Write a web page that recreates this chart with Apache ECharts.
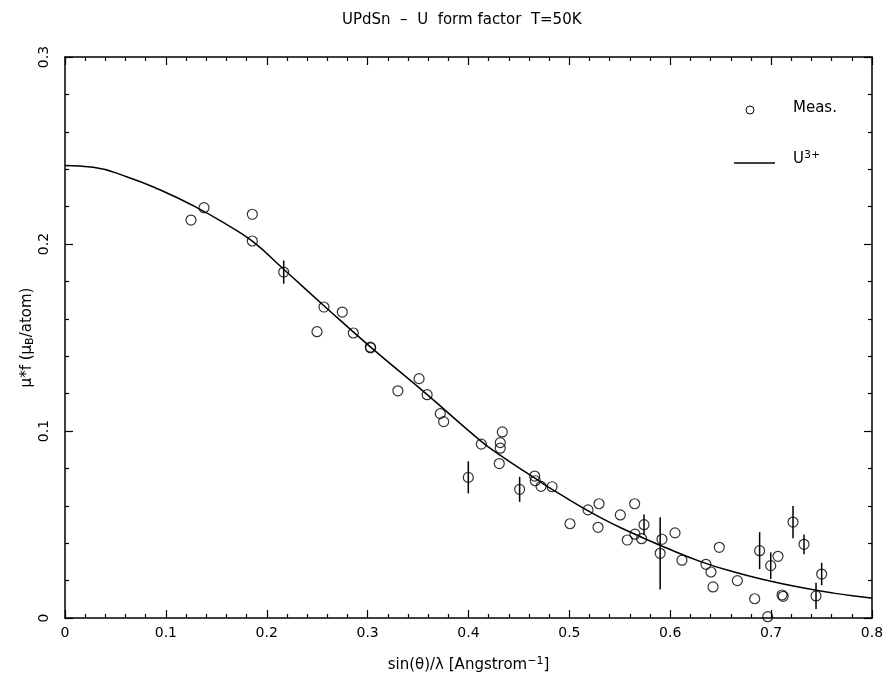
<!DOCTYPE html>
<html>
<head>
<meta charset="utf-8">
<title>UPdSn form factor</title>
<style>
  html, body { margin: 0; padding: 0; background: #fff; }
  #chart { width: 887px; height: 686px; }
</style>
</head>
<body>
<div id="chart"></div>
<script src="https://cdn.jsdelivr.net/npm/echarts@6/dist/echarts.min.js"></script>
<script>
// measured points (sin(theta)/lambda, mu*f, error; 0 = no bar drawn)
var measX = [0.1249, 0.1378, 0.1857, 0.1857, 0.2168, 0.2498, 0.2567, 0.2749, 0.2858, 0.3027,
             0.3030, 0.3300, 0.3510, 0.3590, 0.3720, 0.3754, 0.3998, 0.4127, 0.4305, 0.4315,
             0.4315, 0.4335, 0.4507, 0.4656, 0.4662, 0.4719, 0.4828, 0.5006, 0.5185, 0.5284,
             0.5294, 0.5505, 0.5574, 0.5647, 0.5650, 0.5716, 0.5740, 0.5900, 0.5918, 0.6047,
             0.6116, 0.6354, 0.6404, 0.6424, 0.6486, 0.6665, 0.6837, 0.6886, 0.6966, 0.6996,
             0.7068, 0.7108, 0.7120, 0.7217, 0.7326, 0.7445, 0.7501];
var measY = [0.2128, 0.2194, 0.2159, 0.2016, 0.1850, 0.1531, 0.1663, 0.1636, 0.1524, 0.1448,
             0.1445, 0.1215, 0.1280, 0.1194, 0.1093, 0.1050, 0.0752, 0.0930, 0.0826, 0.0938,
             0.0908, 0.0995, 0.0688, 0.0759, 0.0734, 0.0704, 0.0702, 0.0504, 0.0578, 0.0485,
             0.0611, 0.0551, 0.0417, 0.0611, 0.0448, 0.0424, 0.0499, 0.0346, 0.0421, 0.0455,
             0.0309, 0.0287, 0.0246, 0.0166, 0.0378, 0.0200, 0.0103, 0.0360, 0.0007, 0.0280,
             0.0330, 0.0123, 0.0116, 0.0513, 0.0394, 0.0118, 0.0235];
var measErr = [0, 0, 0, 0, 0.0062, 0, 0, 0, 0, 0,
               0, 0, 0, 0, 0, 0, 0.0086, 0, 0, 0,
               0, 0, 0.0067, 0, 0, 0, 0, 0, 0, 0,
               0, 0, 0, 0, 0, 0, 0.0055, 0.0193, 0, 0,
               0, 0, 0, 0, 0, 0, 0, 0.0099, 0, 0.0071,
               0, 0, 0, 0.0086, 0.0053, 0.0070, 0.0060];

// U3+ form factor curve
var curveX = [0, 0.028, 0.061, 0.094, 0.127, 0.160, 0.1857, 0.2168, 0.2567, 0.3027, 0.3585, 0.4114,
              0.4312, 0.4643, 0.4907, 0.5304, 0.5634, 0.5965, 0.6295, 0.6625, 0.6956, 0.7286, 0.7617,
              0.7947, 0.80];
var curveY = [0.242, 0.241, 0.236, 0.229, 0.2205, 0.2105, 0.2015, 0.1865, 0.167, 0.145, 0.1197, 0.095,
              0.0871, 0.0753, 0.0662, 0.0538, 0.0452, 0.0374, 0.0303, 0.0247, 0.0202, 0.0164, 0.0133,
              0.0109, 0.0106];

var xTicks = { min: 0, max: 0.8, interval: 0.1 };
var yTicks = { min: 0, max: 0.3, interval: 0.1 };

var FONT = 'DejaVu Sans';

var measData = [], errData = [], curveData = [];
for (var i = 0; i < measX.length; i++) {
  measData.push([measX[i], measY[i]]);
  if (measErr[i] > 0) errData.push([measX[i], measY[i], measErr[i]]);
}
for (var j = 0; j < curveX.length; j++) curveData.push([curveX[j], curveY[j]]);

function makeAxis(t, pos, showLabel, extra) {
  var ax = {
    type: 'value', position: pos, min: t.min, max: t.max, interval: t.interval,
    axisLine: { show: true, onZero: false, lineStyle: { color: '#000', width: 1.5 } },
    axisTick: { show: true, inside: true, length: 8, lineStyle: { color: '#000', width: 1.2 } },
    minorTick: { show: true, splitNumber: 5, length: 4, lineStyle: { color: '#000', width: 1.2 } },
    splitLine: { show: false },
    axisLabel: { show: showLabel, color: '#000', fontFamily: FONT, fontSize: 14 }
  };
  for (var k in extra) ax[k] = extra[k];
  return ax;
}

var chart = echarts.init(document.getElementById('chart'));
chart.setOption({
  backgroundColor: '#fff',
  animation: false,
  title: {
    text: 'UPdSn  \u2013  U  form factor  T=50K',
    left: 337, top: 8,
    textStyle: { color: '#000', fontFamily: FONT, fontSize: 15, fontWeight: 'normal' }
  },
  grid: { left: 65, right: 15, top: 57, bottom: 68 },
  xAxis: [
    makeAxis(xTicks, 'bottom', true, {
      name: 'sin(\u03b8)/\u03bb [Angstrom{sup|\u22121}]',
      nameLocation: 'middle', nameGap: 38,
      nameTextStyle: {
        color: '#000', fontFamily: FONT, fontSize: 15,
        rich: { sup: { fontFamily: FONT, fontSize: 11, verticalAlign: 'top', padding: [0, 0, 8, 0], color: '#000' } }
      }
    }),
    makeAxis(xTicks, 'top', false, {})
  ],
  yAxis: [
    makeAxis(yTicks, 'left', true, {
      axisLabel: { show: true, color: '#000', fontFamily: FONT, fontSize: 14, rotate: 90, margin: 14 },
      name: '\u03bc*f (\u03bc{sub|B}/atom)',
      nameLocation: 'middle', nameGap: 29, nameRotate: 90, nameMoveOverlap: false,
      nameTextStyle: {
        color: '#000', fontFamily: FONT, fontSize: 15,
        rich: { sub: { fontFamily: FONT, fontSize: 11, verticalAlign: 'bottom', padding: [6, 0, 0, 0], color: '#000' } }
      }
    }),
    makeAxis(yTicks, 'right', false, {})
  ],
  series: [
    {
      name: 'U3+', type: 'line', data: curveData, smooth: 0.5,
      showSymbol: false, symbol: 'none',
      lineStyle: { color: '#000', width: 1.5 }
    },
    {
      name: 'err', type: 'custom', data: errData,
      renderItem: function (params, api) {
        var x = api.value(0), y = api.value(1), e = api.value(2);
        var p1 = api.coord([x, y + e]), p2 = api.coord([x, y - e]);
        return {
          type: 'line',
          shape: { x1: p1[0], y1: p1[1], x2: p2[0], y2: p2[1] },
          style: { stroke: '#000', lineWidth: 1.5 }
        };
      }
    },
    {
      name: 'Meas.', type: 'scatter', data: measData,
      symbol: 'circle', symbolSize: 10,
      itemStyle: { color: 'rgba(0,0,0,0)', borderColor: '#000', borderWidth: 1.2 }
    }
  ],
  graphic: [
    { type: 'circle', shape: { cx: 750, cy: 110, r: 4 }, style: { fill: 'none', stroke: '#000', lineWidth: 1 } },
    { type: 'text', left: 793, top: 101, style: { text: 'Meas.', fill: '#000', font: '15px "DejaVu Sans"' } },
    { type: 'line', shape: { x1: 734, y1: 163, x2: 775, y2: 163 }, style: { stroke: '#000', lineWidth: 1.5 } },
    {
      type: 'text', left: 793, top: 150,
      style: {
        text: 'U{sup|3+}', fill: '#000', font: '15px "DejaVu Sans"',
        rich: { sup: { fontSize: 11, fontFamily: FONT, verticalAlign: 'top', padding: [0, 0, 8, 0], fill: '#000' } }
      }
    }
  ]
});
</script>
</body>
</html>
